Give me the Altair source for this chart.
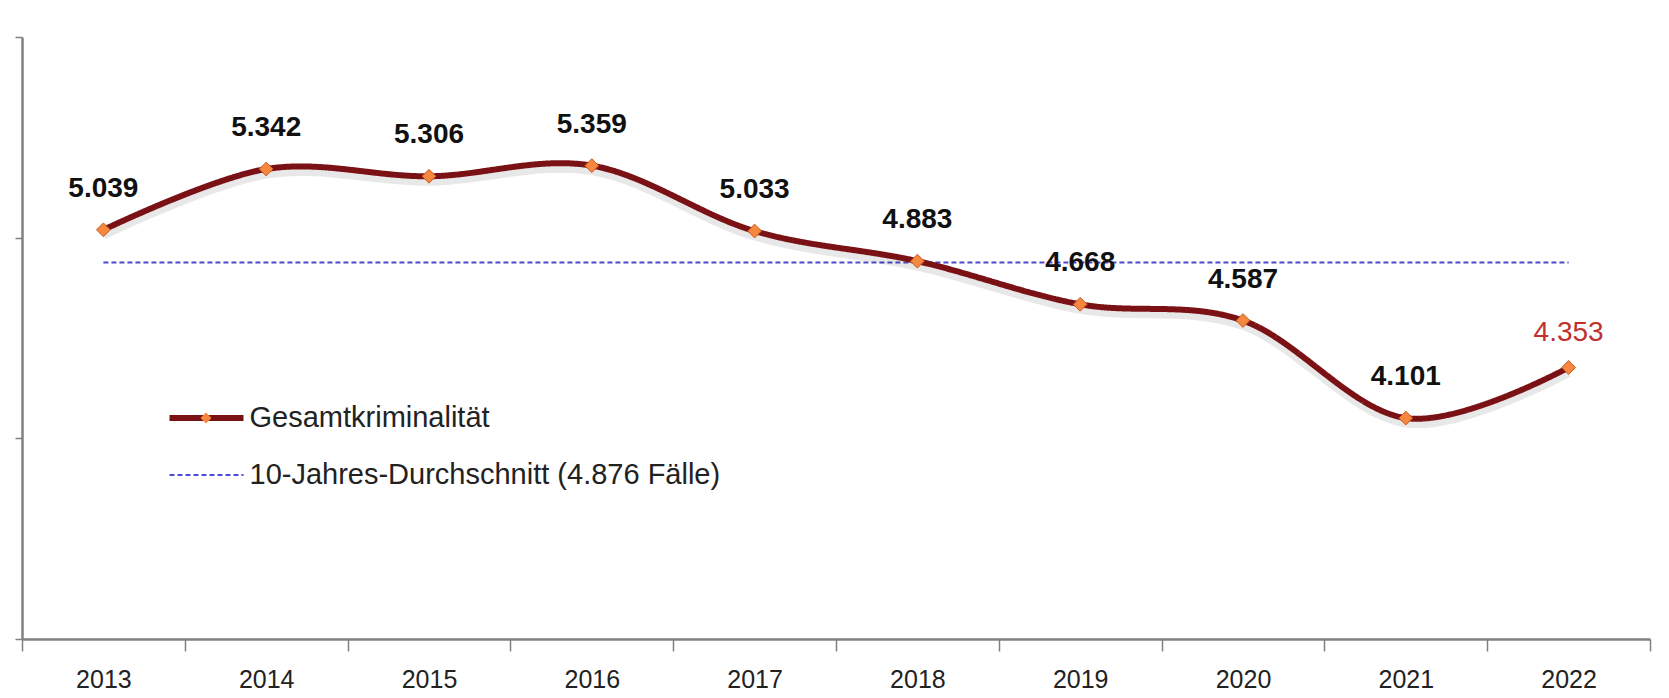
import altair as alt
import pandas as pd

# ---- data ----
years = ["2013", "2014", "2015", "2016", "2017", "2018", "2019", "2020", "2021", "2022"]
cases = [5039, 5342, 5306, 5359, 5033, 4883, 4668, 4587, 4101, 4353]
ten_year_average = 4876
series_names = ["Gesamtkriminalität", "10-Jahres-Durchschnitt (4.876 Fälle)"]
highlight_year = "2022"
y_ticks = [3000, 4000, 5000, 6000]


def de(v):
    return f"{v:,}".replace(",", ".")


main_df = pd.DataFrame({
    "year": years,
    "value": cases,
    "label": [de(v) for v in cases],
    "series": series_names[0],
    "marker": series_names[0],
})
avg_df = pd.DataFrame({
    "year": years,
    "value": [ten_year_average] * len(years),
    "series": series_names[1],
})

FONT = "Liberation Sans, Arial, sans-serif"
MAROON = "#7a1115"
BLUE = "#4a4ad6"
ORANGE = "#f5883e"

x_enc = alt.X(
    "year:O",
    scale=alt.Scale(paddingInner=0, paddingOuter=0),
    axis=alt.Axis(
        title=None, labelAngle=0, tickBand="extent",
        domainColor="#808080", domainWidth=2.5,
        tickColor="#808080", tickWidth=1.5, tickSize=12,
        labelFont=FONT, labelFontSize=25, labelColor="#222222",
        labelPadding=16,
    ),
)
y_enc = alt.Y(
    "value:Q",
    scale=alt.Scale(domain=[3000, 6000], nice=False, zero=False),
    axis=alt.Axis(
        title=None, labels=False, values=y_ticks, grid=False,
        domainColor="#808080", domainWidth=2.5,
        tickColor="#808080", tickWidth=1.5, tickSize=7,
    ),
)

legend_def = alt.Legend(
    title=None, orient="none", legendX=144.5, legendY=366,
    symbolType="stroke", symbolSize=5476, clipHeight=30, rowPadding=27,
    labelFont=FONT, labelFontSize=29, labelColor="#222222",
    labelOffset=3, labelLimit=0, padding=0,
)

color_enc = alt.Color("series:N", scale=alt.Scale(domain=series_names, range=[MAROON, BLUE]), legend=legend_def)
dash_enc = alt.StrokeDash("series:N", scale=alt.Scale(domain=series_names, range=[[1, 0], [5, 3]]), legend=legend_def)
width_enc = alt.StrokeWidth("series:N", scale=alt.Scale(domain=series_names, range=[6, 2]), legend=legend_def)

avg_line = alt.Chart(avg_df).mark_line().encode(
    x=x_enc, y=y_enc, color=color_enc, strokeDash=dash_enc, strokeWidth=width_enc
)

shadow = alt.Chart(main_df).mark_line(
    interpolate="cardinal", color="#000000", opacity=0.09, strokeWidth=9, yOffset=5
).encode(x=x_enc, y=y_enc)

main_line = alt.Chart(main_df).mark_line(interpolate="cardinal").encode(
    x=x_enc, y=y_enc, color=color_enc, strokeDash=dash_enc, strokeWidth=width_enc
)

points = alt.Chart(main_df).mark_point(
    filled=True, size=190, color=ORANGE, fill=ORANGE, stroke="#c9581f", strokeWidth=1, opacity=1
).encode(
    x=x_enc, y=y_enc,
    shape=alt.Shape(
        "marker:N",
        scale=alt.Scale(domain=[series_names[0]], range=["diamond"]),
        legend=alt.Legend(
            title=None, orient="none", legendX=169.5, legendY=366,
            symbolSize=120, clipHeight=30, labelExpr="''",
            labelFont=FONT, labelFontSize=29, padding=0,
            symbolFillColor=ORANGE, symbolStrokeColor="#c9581f", symbolStrokeWidth=1,
        ),
    ),
)

labels = alt.Chart(main_df).transform_filter(
    alt.datum.year != highlight_year
).mark_text(
    dy=-41, font=FONT, fontSize=28, fontWeight="bold", color="#111111"
).encode(x=x_enc, y=y_enc, text="label:N")

label_hl = alt.Chart(main_df).transform_filter(
    alt.datum.year == highlight_year
).mark_text(
    dy=-34, font=FONT, fontSize=28, color="#c0302e"
).encode(x=x_enc, y=y_enc, text="label:N")

chart = alt.layer(avg_line, shadow, main_line, points, labels, label_hl).properties(
    width=1628, height=602,
    autosize=alt.AutoSizeParams(type="none"),
    padding={"left": 14, "top": 29, "right": 11, "bottom": 57},
    background="white",
).configure_view(stroke=None)

chart.save("out.html", embed_options={"renderer": "svg", "actions": False})
